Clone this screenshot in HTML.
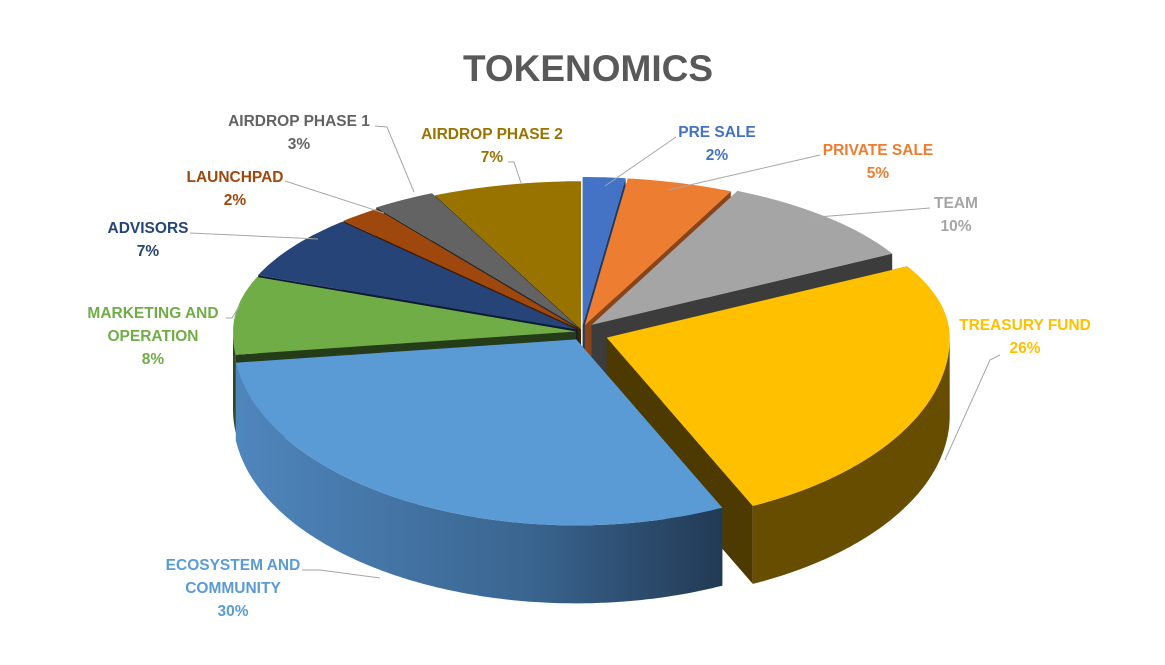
<!DOCTYPE html>
<html><head><meta charset="utf-8"><style>
html,body{margin:0;padding:0;background:#fff;}
svg{display:block;font-family:"Liberation Sans",sans-serif;}
</style></head><body>
<svg id="chart" width="1165" height="665" viewBox="0 0 1165 665">
<defs>
<linearGradient id="ecoSide" x1="0" x2="1" y1="0" y2="0">
<stop offset="0" stop-color="#4f86bd"/><stop offset="0.6" stop-color="#3a6590"/><stop offset="1" stop-color="#223a55"/>
</linearGradient>
</defs>
<text x="588" y="81" text-anchor="middle" font-size="37" font-weight="bold" fill="#595959">TOKENOMICS</text>
<g id="pie"></g>
<g id="labels"></g>
</svg>
<script>
const categories = ["PRE SALE","PRIVATE SALE","TEAM","TREASURY FUND","ECOSYSTEM AND COMMUNITY","MARKETING AND OPERATION","ADVISORS","LAUNCHPAD","AIRDROP PHASE 1","AIRDROP PHASE 2"];
const values = [2,5,10,26,30,8,7,2,3,7];
const colors = ["#4472C4","#ED7D31","#A5A5A5","#FFC000","#5B9BD5","#70AD47","#264478","#9E480E","#636363","#997300"];
const sideColors = ["#2f5597","#b15a22","#505050","#664d00","url(#ecoSide)","#2e4a1f","#14233f","#5a2808","#333333","#463400"];
const wallColors = ["#1f3a66","#8a4418","#3c3c3c","#4d3a00","#2a4a6e","#253c19","#0f1a30","#3e1c05","#262626","#352700"];
const explode = [10,10,14,26,12,6,6,6,8,4];
const labelLines = [["PRE SALE"],["PRIVATE SALE"],["TEAM"],["TREASURY FUND"],["ECOSYSTEM AND","COMMUNITY"],["MARKETING AND","OPERATION"],["ADVISORS"],["LAUNCHPAD"],["AIRDROP PHASE 1"],["AIRDROP PHASE 2"]];
const labelPos = [[717,131],[878,149],[956,202],[1025,324],[233,564],[153,312],[148,227],[235,176],[299,120],[492,133]];
const leaders = [[[676,137],[605,186]],[[820,155],[668,190]],[[930,208],[805,218]],[[1000,355],[990,360],[945,460]],[[302,570],[320,570],[380,578]],[[226,318],[232,318],[240,305]],[[190,233],[318,239]],[[285,181],[384,213]],[[375,126],[387,127],[414,192]],[[508,162],[514,162],[521,183]]];
const labelColors = ["#4472C4","#ED7D31","#A5A5A5","#FFC000","#5B9BD5","#70AD47","#264478","#9E480E","#636363","#997300"];

const NS="http://www.w3.org/2000/svg";
const cx=582, cy=332, rx=343, ryB=148, ryF=186, depth=78;
function pt(t,ox,oy,dz){const c=Math.cos(t);const ry=c>0?ryB:ryF;return [cx+ox+rx*Math.sin(t), cy+oy-ry*c+(dz||0)];}
const total=values.reduce((a,b)=>a+b,0);
const pie=document.getElementById('pie');
let acc=0; const slices=[];
values.forEach((v,i)=>{const a1=acc/total*2*Math.PI; acc+=v; const a2=acc/total*2*Math.PI; slices.push({i,a1,a2,m:(a1+a2)/2});});
slices.sort((a,b)=>(-Math.cos(a.m))-(-Math.cos(b.m)));
function arcPts(a1,a2,ox,oy,dz){const n=Math.max(4,Math.ceil((a2-a1)*60));const r=[];for(let k=0;k<=n;k++)r.push(pt(a1+(a2-a1)*k/n,ox,oy,dz));return r;}
function poly(points,fill,name){const p=document.createElementNS(NS,'path');p.setAttribute('d','M'+points.map(q=>q[0].toFixed(1)+','+q[1].toFixed(1)).join('L')+'Z');p.setAttribute('fill',fill);


pie.appendChild(p);}
slices.forEach(s=>{
  const i=s.i; const e=explode[i];
  const ox=e*Math.sin(s.m), oy=-e*Math.cos(s.m)*0.7;
  const C=[cx+ox,cy+oy];
  const E1=pt(s.a1,ox,oy), E2=pt(s.a2,ox,oy);
  poly([C,E1,[E1[0],E1[1]+depth],[C[0],C[1]+depth]],wallColors[i],'slice-wall-'+i);
  poly([C,E2,[E2[0],E2[1]+depth],[C[0],C[1]+depth]],wallColors[i],'slice-wall-'+i);
  const lo=Math.max(s.a1,Math.PI/2), hi=Math.min(s.a2,3*Math.PI/2);
  if(hi>lo){const top=arcPts(lo,hi,ox,oy,0);const bot=arcPts(lo,hi,ox,oy,depth).reverse();poly(top.concat(bot),sideColors[i],'slice-side-'+i);}
  poly([C].concat(arcPts(s.a1,s.a2,ox,oy,0)),colors[i],'slice-'+categories[i].toLowerCase().replace(/ /g,'-'));
});
const lab=document.getElementById('labels');
categories.forEach((c,i)=>{
  const pl=document.createElementNS(NS,'polyline');
  pl.setAttribute('points',leaders[i].map(q=>q.join(',')).join(' '));
  pl.setAttribute('fill','none');pl.setAttribute('stroke','#a6a6a6');pl.setAttribute('stroke-width','1');
  
  
  lab.appendChild(pl);
  const lines=labelLines[i].concat([values[i]+'%']);
  lines.forEach((t,k)=>{
    const tx=document.createElementNS(NS,'text');
    tx.setAttribute('x',labelPos[i][0]);tx.setAttribute('y',labelPos[i][1]+6+k*23);
    tx.setAttribute('text-anchor','middle');tx.setAttribute('font-size','15.5');tx.setAttribute('font-weight','bold');
    tx.setAttribute('fill',labelColors[i]);tx.textContent=t;
    
    
    lab.appendChild(tx);
  });
});
</script>
</body></html>
